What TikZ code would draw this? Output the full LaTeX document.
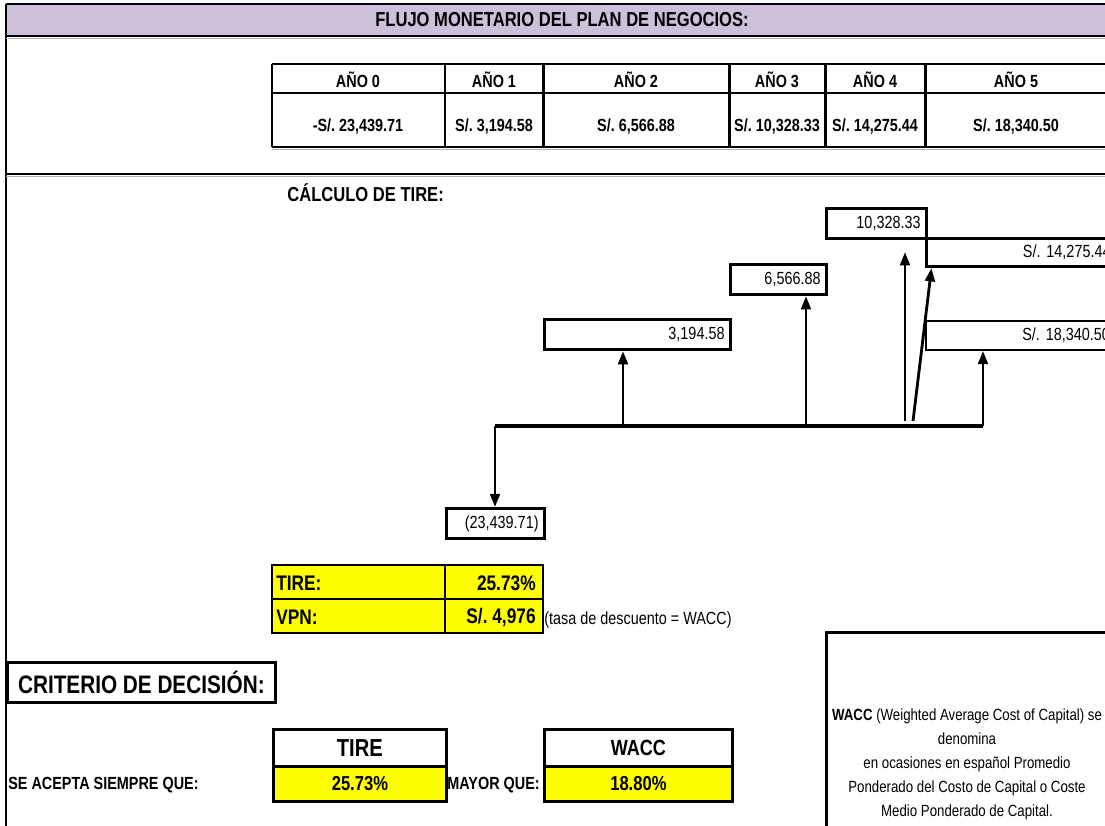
\documentclass[tikz,border=0pt]{standalone}
\usepackage{fontspec}
\setmainfont{Liberation Sans}[FakeStretch=0.82]
\usetikzlibrary{positioning,arrows.meta}
\definecolor{lila}{HTML}{CCC0DA}
\definecolor{amarillo}{HTML}{FFFF00}
\newcommand{\fsz}[1]{\fontsize{#1}{#1}\selectfont}
\frenchspacing

\begin{document}
\begin{tikzpicture}[x=0.02cm, y=-0.02cm, >={Triangle[width=5.5pt,length=7.5pt]},
  valbox/.style={draw, line width=1.8pt, fill=white, inner sep=0pt, anchor=north west, align=right, font=\fsz{10}},
  cell/.style={draw, line width=1.6pt, inner sep=0pt, anchor=north west},
  grueso/.style={line width=1.7pt},
  sombra/.style={gray!60, line width=0.8pt},
  flecha/.style={->, line width=1.6pt},
  hdr/.style={font=\bfseries\fsz{10}},
  txt/.style={font=\fsz{10}, inner sep=0pt}]
\useasboundingbox (0,0) rectangle (1105,825);
\clip (0,0) rectangle (1105,825);

% encabezado
\fill[lila] (6,4) rectangle (1110,36);
\draw[line width=0.8pt] (6,4) -- (1110,4);
\draw[line width=0.8pt] (6,4) -- (6,830);
\draw[sombra] (6,38.5) -- (1110,38.5);
\draw[grueso] (6,36) -- (1110,36);
\node[font=\bfseries\fsz{11.5}] (titulo) at (562,20) {FLUJO MONETARIO DEL PLAN DE NEGOCIOS:};

% tabla de flujos
\draw[sombra] (272,149.5) -- (1110,149.5);
\draw[grueso] (272,64) -- (1110,64);
\draw[line width=1.1pt] (272,93) -- (1110,93);
\draw[grueso] (272,147) -- (1110,147);
\foreach \x in {272,445,543,729,825,925}
  \draw[grueso] (\x,64) -- (\x,147);
\foreach \x/\n/\v in {358/0/{-S/. 23,439.71}, 494/1/{S/. 3,194.58}, 636/2/{S/. 6,566.88},
    777/3/{S/. 10,328.33}, 875/4/{S/. 14,275.44}, 1016/5/{S/. 18,340.50}} {
  \node[hdr] (h\n) at (\x,80) {AÑO \n};
  \node[hdr] (c\n) at (\x,126) {\v};
}
\draw[sombra] (6,176.5) -- (1110,176.5);
\draw[grueso] (6,174) -- (1110,174);

\node[font=\bfseries\fsz{11.5}, anchor=west, inner sep=0pt] (calc) at (287,193) {CÁLCULO DE TIRE:};

% diagrama de flujo
\node[valbox, minimum width=1.96cm, minimum height=0.6cm, text width=1.72cm] (v0) at (445,507) {(23,439.71)};
\node[valbox, minimum width=3.72cm, minimum height=0.6cm, text width=3.48cm] (v1) at (543,318) {3,194.58};
\node[valbox, minimum width=1.92cm, minimum height=0.6cm, text width=1.68cm] (v2) at (729,263) {6,566.88};
\node[valbox, minimum width=2cm, minimum height=0.6cm, text width=1.76cm] (v3) at (825,207) {10,328.33};
\node[valbox, minimum width=3.8cm, minimum height=0.56cm, text width=3.56cm] (v4) at (925,237) {S/.~14,275.44};
\node[valbox, line width=1.1pt, minimum width=3.8cm, minimum height=0.58cm, text width=3.56cm] (v5) at (925,320) {S/.~18,340.50};

\coordinate (b0) at (495,426);
\coordinate (b1) at (623,426);
\coordinate (b2) at (806,426);
\coordinate (b3) at (905,421);
\coordinate (b4) at (913,421);
\coordinate (b5) at (983,426);
\draw[line width=2.4pt] (b0) -- (b5);
\draw[flecha] (b0) -- (b0 |- v0.north);
\draw[flecha] (b1) -- (b1 |- v1.south);
\draw[flecha] (b2) -- (b2 |- v2.south);
\draw[flecha, shorten >=0.24cm] (b3) -- (b3 |- v3.south);
\draw[flecha] (b4) -- ([xshift=0.13cm]v4.south west);
\draw[flecha] (b5) -- (b5 |- v5.south);

% TIRE y VPN
\draw[cell, fill=amarillo] (272,565) rectangle (445,599);
\draw[cell, fill=amarillo] (445,565) rectangle (543,599);
\draw[cell, fill=amarillo] (272,599) rectangle (445,633);
\draw[cell, fill=amarillo] (445,599) rectangle (543,633);
\node[font=\bfseries\fsz{12}, anchor=west, inner sep=0pt] (tire) at (276,583) {TIRE:};
\node[font=\bfseries\fsz{12}, anchor=east, inner sep=0pt] (tirev) at (536,583) {25.73\%};
\node[font=\bfseries\fsz{12}, anchor=west, inner sep=0pt] (vpn) at (276,617) {VPN:};
\node[font=\bfseries\fsz{12}, anchor=east, inner sep=0pt] (vpnv) at (536,617) {S/. 4,976};
\node[txt, anchor=west] (tasa) at (544,620) {(tasa de descuento = WACC)};

% criterio de decision
\node[cell, minimum width=5.36cm, minimum height=0.8cm, font=\bfseries\fsz{14.4}] (crit) at (6,661) {CRITERIO DE DECISIÓN:};
\node[font=\bfseries\fsz{10}, anchor=west, inner sep=0pt] (acepta) at (8,785) {SE ACEPTA SIEMPRE QUE:};
\node[cell, minimum width=3.46cm, minimum height=0.74cm, font=\bfseries\fsz{14}] (tireh) at (272,728) {TIRE};
\node[cell, fill=amarillo, minimum width=3.46cm, minimum height=0.7cm, font=\bfseries\fsz{11.5}] (tirec) at (272,765) {25.73\%};
\node[font=\bfseries\fsz{10}, anchor=west, inner sep=0pt] (mayor) at (447,785) {MAYOR QUE:};
\node[cell, minimum width=3.76cm, minimum height=0.74cm, font=\bfseries\fsz{12.5}] (wacch) at (543,728) {WACC};
\node[cell, fill=amarillo, minimum width=3.76cm, minimum height=0.7cm, font=\bfseries\fsz{11.5}] (waccc) at (543,765) {18.80\%};

% nota WACC
\draw[grueso] (826,830) -- (826,632) -- (1110,632);
\node[font=\fontsize{9.2}{13.6}\selectfont, align=center, anchor=north] (nota) at (967,703)
  {\textbf{WACC} (Weighted Average Cost of Capital) se\\ denomina\\ en ocasiones en español Promedio\\
   Ponderado del Costo de Capital o Coste\\ Medio Ponderado de Capital.};
\end{tikzpicture}
\end{document}
